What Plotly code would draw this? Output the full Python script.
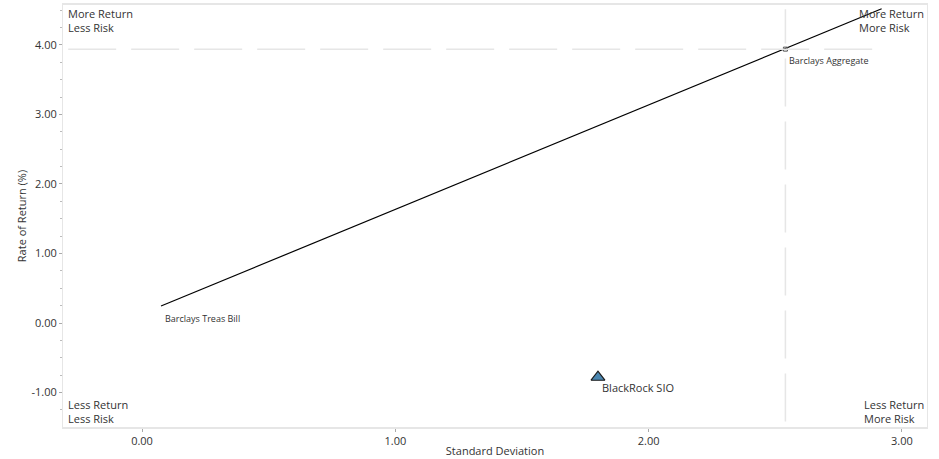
import plotly.graph_objects as go

# Data
names = ["Barclays Treas Bill", "Barclays Aggregate", "BlackRock SIO"]
std_dev = [0.075, 2.54, 1.80]
returns = [0.245, 3.94, -0.78]
cml_x = [0.075, 2.92]
cml_y = [0.245, 4.52]
x_ticks = [0.0, 1.0, 2.0, 3.0]
y_ticks = [-1.0, 0.0, 1.0, 2.0, 3.0, 4.0]
quadrants = ["More Return<br>Less Risk", "More Return<br>More Risk",
             "Less Return<br>Less Risk", "Less Return<br>More Risk"]

FONT = "Open Sans"
fig = go.Figure()

# crosshair dashed lines at benchmark
fig.add_shape(type="line", xref="paper", yref="y", x0=0.006, x1=0.945,
              y0=returns[1], y1=returns[1],
              line=dict(color="#e6e6e6", width=1.5, dash="48px,15px"))
fig.add_shape(type="line", xref="x", yref="paper", x0=std_dev[1], x1=std_dev[1],
              y0=0.013, y1=0.99,
              line=dict(color="#e6e6e6", width=1.5, dash="48px,15px"))

# capital market line
fig.add_trace(go.Scatter(x=cml_x, y=cml_y, mode="lines",
                         line=dict(color="black", width=1.2),
                         hoverinfo="skip", showlegend=False))

# benchmark marker
fig.add_trace(go.Scatter(x=[std_dev[1]], y=[returns[1]], mode="markers",
                         marker=dict(symbol="square-open", size=4, color="#555",
                                     line=dict(width=1, color="#555")),
                         showlegend=False))

# fund marker
fig.add_trace(go.Scatter(x=[std_dev[2]], y=[returns[2]], mode="markers",
                         marker=dict(symbol="triangle-up", size=12, color="#4a86b0",
                                     line=dict(width=1.2, color="#1a1a1a")),
                         showlegend=False))

# point labels
fig.add_annotation(x=std_dev[0], y=returns[0], text=names[0], showarrow=False,
                   xanchor="left", yanchor="top", xshift=2, yshift=-4,
                   font=dict(family=FONT, size=9, color="#333"))
fig.add_annotation(x=std_dev[1], y=returns[1], text=names[1], showarrow=False,
                   xanchor="left", yanchor="top", xshift=2, yshift=-3,
                   font=dict(family=FONT, size=9, color="#333"))
fig.add_annotation(x=std_dev[2], y=returns[2], text=names[2], showarrow=False,
                   xanchor="left", yanchor="top", xshift=2, yshift=-1,
                   font=dict(family=FONT, size=11, color="#333"))

# quadrant labels
qfont = dict(family=FONT, size=11, color="#333")
fig.add_annotation(x=0, y=1, xref="paper", yref="paper", text=quadrants[0],
                   showarrow=False, xanchor="left", yanchor="top", align="left",
                   xshift=3, yshift=1, font=qfont)
fig.add_annotation(x=1, y=1, xref="paper", yref="paper", text=quadrants[1],
                   showarrow=False, xanchor="right", yanchor="top", align="left",
                   xshift=-1, yshift=1, font=qfont)
fig.add_annotation(x=0, y=0, xref="paper", yref="paper", text=quadrants[2],
                   showarrow=False, xanchor="left", yanchor="bottom", align="left",
                   xshift=3, yshift=-1, font=qfont)
fig.add_annotation(x=1, y=0, xref="paper", yref="paper", text=quadrants[3],
                   showarrow=False, xanchor="right", yanchor="bottom", align="left",
                   xshift=-1, yshift=-1, font=qfont)

fig.update_layout(
    width=939, height=459,
    margin=dict(l=63, r=12, t=5, b=32),
    plot_bgcolor="white", paper_bgcolor="white",
    font=dict(family=FONT, size=11, color="#333"),
    showlegend=False,
    xaxis=dict(range=[-0.312, 3.099], tickvals=x_ticks,
               ticktext=[f"{v:.2f}" for v in x_ticks],
               showgrid=False, zeroline=False, automargin=False,
               showline=True, linecolor="#e6e6e6", linewidth=2, mirror=True,
               ticks="outside", ticklen=3, tickcolor="#aaa",
               title=dict(text="Standard Deviation", standoff=0,
                          font=dict(family=FONT, size=11, color="#333")),
               tickfont=dict(family=FONT, size=11, color="#333")),
    yaxis=dict(range=[-1.496, 4.575], tickvals=y_ticks,
               ticktext=[f"{v:.2f}" for v in y_ticks],
               showgrid=False, zeroline=False, automargin=False,
               showline=True, linecolor="#e6e6e6", linewidth=1, mirror=True,
               ticks="outside", ticklen=3, tickcolor="#aaa",
               minor=dict(dtick=0.25, ticks="outside", ticklen=2, tickcolor="#bbb"),
               title=dict(text="Rate of Return (%)", standoff=2,
                          font=dict(family=FONT, size=11, color="#333")),
               tickfont=dict(family=FONT, size=11, color="#333")),
)

fig.write_html("out.html", config={"displayModeBar": False},
               post_script="document.body.style.margin='0';document.body.style.overflow='hidden';")
